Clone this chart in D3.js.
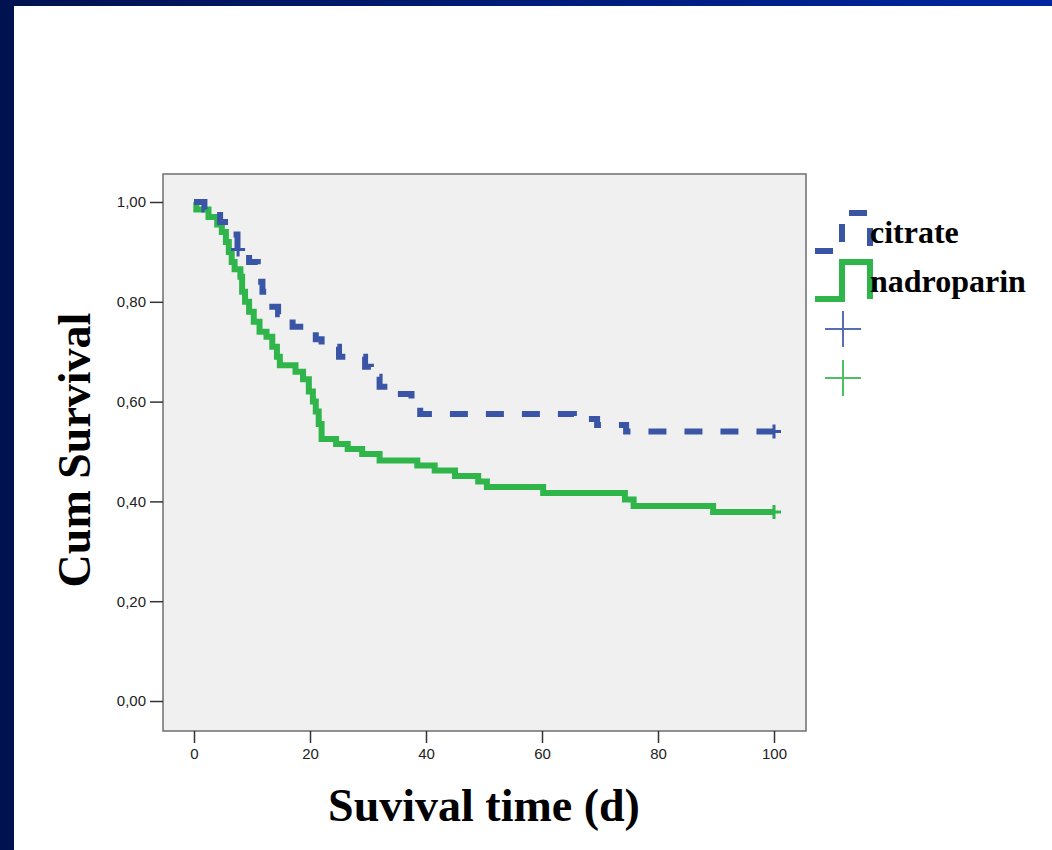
<!DOCTYPE html>
<meta charset="utf-8">
<script src="https://d3js.org/d3.v7.min.js"></script>
<style>
  body { margin: 0; background: #fff; }
</style>
<div id="chart"></div>
<script>
// Kaplan-Meier steps: time (days) and survival after the event
var citrateTime = [0, 1.8, 4.5, 6.5, 7.5, 9.5, 11, 11.8, 13.5, 14.5, 17, 21, 22, 25, 29.5, 30.5, 32, 35, 37.5, 39, 65.5, 69.5, 74.5, 100];
var citrateSurv = [1.00, 0.985, 0.96, 0.935, 0.905, 0.88, 0.84, 0.82, 0.79, 0.775, 0.75, 0.725, 0.71, 0.69, 0.67, 0.65, 0.63, 0.615, 0.605, 0.575, 0.565, 0.553, 0.54, 0.54];
var nadroTime = [0, 0.4, 2.5, 4, 4.8, 5.5, 6, 6.5, 7, 8, 8.3, 8.8, 9.5, 10.3, 11.3, 12.5, 13.5, 14.3, 14.8, 17.5, 18.8, 19.8, 20.5, 21, 21.5, 22, 24.5, 26.5, 29, 32, 38.5, 41.5, 45, 49, 50.5, 60.2, 74.3, 75.8, 89.5, 100];
var nadroSurv = [1.00, 0.985, 0.97, 0.955, 0.94, 0.92, 0.90, 0.88, 0.865, 0.85, 0.82, 0.80, 0.78, 0.76, 0.74, 0.73, 0.71, 0.69, 0.673, 0.66, 0.645, 0.62, 0.60, 0.58, 0.555, 0.525, 0.515, 0.505, 0.495, 0.482, 0.472, 0.462, 0.451, 0.44, 0.429, 0.417, 0.404, 0.391, 0.379, 0.379];
var citrateCensor = [7.6, 100];
var nadroCensor = [100];
var xTicks = [0, 20, 40, 60, 80, 100];
var yTicks = [0, 0.2, 0.4, 0.6, 0.8, 1.0];
var groups = ["citrate", "nadroparin"];

var blue = "#3b55a6", green = "#2fb54a";

var svg = d3.select("#chart").append("svg")
    .attr("width", 1052).attr("height", 850);

// slide background: gradient bars on top and left
var grad = svg.append("defs").append("linearGradient").attr("id", "bar");
grad.append("stop").attr("offset", "0%").attr("stop-color", "#00124f");
grad.append("stop").attr("offset", "100%").attr("stop-color", "#0026a0");
svg.append("rect").attr("x", 0).attr("y", 0).attr("width", 1052).attr("height", 6).attr("fill", "url(#bar)");
svg.append("rect").attr("x", 0).attr("y", 0).attr("width", 14).attr("height", 850).attr("fill", "#00124f");

var x = d3.scaleLinear().domain([0, 100]).range([194, 774]);
var y = d3.scaleLinear().domain([0, 1]).range([701, 202]);

// plot frame
svg.append("rect")
    .attr("x", 163).attr("y", 174).attr("width", 643).attr("height", 557)
    .attr("fill", "#f0f0f0").attr("stroke", "#6e6e6e").attr("stroke-width", 1.5);

var fmt = function(d) { return d3.format(".2f")(d).replace(".", ","); };

var yAxis = svg.append("g")
    .attr("transform", "translate(163,0)")
    .call(d3.axisLeft(y).tickValues(yTicks).tickSize(13).tickPadding(4).tickFormat(fmt));
var xAxis = svg.append("g")
    .attr("transform", "translate(0,731)")
    .call(d3.axisBottom(x).tickValues(xTicks).tickSize(12).tickPadding(5));
[xAxis, yAxis].forEach(function(a) {
  a.select(".domain").remove();
  a.selectAll("line").attr("stroke", "#333").attr("stroke-width", 1.5);
  a.selectAll("text").attr("font-family", "Liberation Sans, Arial, sans-serif")
    .attr("font-size", 15).attr("fill", "#222");
});

var line = d3.line()
    .x(function(d) { return x(d[0]); })
    .y(function(d) { return y(d[1]); })
    .curve(d3.curveStepAfter);

var citrate = d3.zip(citrateTime, citrateSurv);
var nadro = d3.zip(nadroTime, nadroSurv);

svg.append("path").datum(nadro)
    .attr("d", line).attr("fill", "none")
    .attr("stroke", green).attr("stroke-width", 6);
svg.append("path").datum(citrate)
    .attr("d", line).attr("fill", "none")
    .attr("stroke", blue).attr("stroke-width", 6)
    .attr("stroke-dasharray", "18,18");

// censor marks
function survAt(times, surv, t) {
  var i = d3.bisectRight(times, t) - 1;
  return surv[Math.max(0, i)];
}
function censor(times, surv, cens, color) {
  cens.forEach(function(t) {
    var cx = x(t), cy = y(survAt(times, surv, t));
    svg.append("path")
      .attr("d", "M" + (cx - 7) + "," + cy + "H" + (cx + 7) + "M" + cx + "," + (cy - 7) + "V" + (cy + 7))
      .attr("stroke", color).attr("stroke-width", 3);
  });
}
censor(citrateTime, citrateSurv, citrateCensor, blue);
censor(nadroTime, nadroSurv, nadroCensor, green);

// axis titles
svg.append("text")
    .attr("transform", "translate(90,450) rotate(-90)")
    .attr("text-anchor", "middle")
    .attr("font-family", "Liberation Serif, Times New Roman, serif")
    .attr("font-weight", "bold").attr("font-size", 46)
    .text("Cum Survival");
svg.append("text")
    .attr("x", 484).attr("y", 821)
    .attr("text-anchor", "middle")
    .attr("font-family", "Liberation Serif, Times New Roman, serif")
    .attr("font-weight", "bold").attr("font-size", 46)
    .text("Suvival time (d)");

// legend
var stepShape = function(y0, y1) {
  return "M815," + y1 + "H842V" + y0 + "H870V" + y1;
};
svg.append("path").attr("d", stepShape(213, 251))
    .attr("fill", "none").attr("stroke", blue).attr("stroke-width", 6)
    .attr("stroke-dasharray", "18,18");
svg.append("path").attr("d", stepShape(262, 299))
    .attr("fill", "none").attr("stroke", green).attr("stroke-width", 6);
svg.selectAll(".lg").data(groups).enter().append("text")
    .attr("x", 870).attr("y", function(d, i) { return 243 + i * 49; })
    .attr("font-family", "Liberation Serif, Times New Roman, serif")
    .attr("font-weight", "bold").attr("font-size", 32)
    .text(function(d) { return d; });
[[329, blue], [378, green]].forEach(function(p) {
  svg.append("path")
    .attr("d", "M825," + p[0] + "H861M843," + (p[0] - 18) + "V" + (p[0] + 18))
    .attr("stroke", p[1]).attr("stroke-width", 2).attr("opacity", 0.85);
});
</script>
